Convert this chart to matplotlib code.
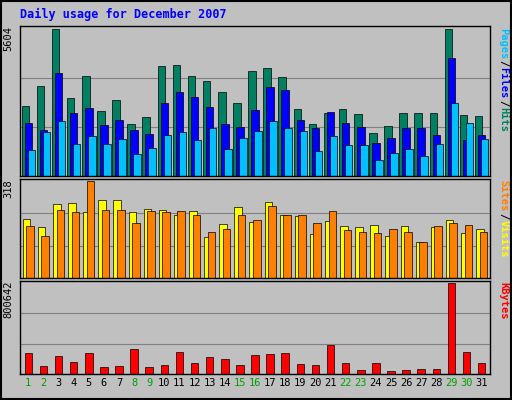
import numpy as np
import matplotlib
matplotlib.use("Agg")
import matplotlib.pyplot as plt

days = list(range(1, 32))
weekend = [1, 2, 8, 9, 15, 16, 22, 23, 29, 30]

hits = [2667, 3440, 5604, 2976, 3826, 2474, 2899, 1971, 2242, 4174, 4213, 3826, 3633, 3208, 2783, 4020,
        4097, 3788, 2551, 1971, 2396, 2551, 2358, 1623, 1894, 2396, 2396, 2396, 5600, 2319, 2280]
files = [2010, 1739, 3942, 2396, 2590, 1932, 2126, 1739, 1585, 2783, 3208, 3015, 2628, 1971, 1855, 2512,
         3401, 3285, 2126, 1816, 2435, 2010, 1855, 1275, 1430, 1816, 1816, 1546, 4483, 1353, 1546]
pages = [1005, 1662, 2087, 1237, 1507, 1237, 1391, 850, 1082, 1546, 1662, 1353, 1816, 1044, 1430, 1701,
         2087, 1816, 1701, 966, 1507, 1198, 1198, 618, 889, 1044, 773, 1237, 2783, 2010, 1391]
visits = [193, 166, 244, 247, 217, 257, 257, 217, 227, 223, 206, 220, 135, 176, 233, 183,
          250, 206, 203, 145, 186, 169, 166, 173, 139, 169, 118, 166, 189, 149, 159]
sites = [169, 139, 223, 217, 318, 223, 223, 179, 220, 217, 220, 206, 152, 159, 206, 189,
         237, 206, 206, 179, 220, 156, 152, 149, 159, 152, 118, 169, 179, 173, 152]
kbytes = [182000, 73000, 155000, 109000, 182000, 64000, 73000, 218000, 64000, 82000, 191000, 100000,
          146000, 136000, 82000, 164000, 173000, 182000, 91000, 82000, 255000, 100000, 36000, 100000,
          27000, 36000, 45000, 45000, 800642, 191000, 100000]

BG = "#C0C0C0"
W, H = 512, 400
fig = plt.figure(figsize=(5.12, 4.0), dpi=100, facecolor=BG)
mono = "DejaVu Sans Mono"

def ax_at(x0, y0, x1, y1):
    return fig.add_axes([x0 / W, 1 - y1 / H, (x1 - x0) / W, (y1 - y0) / H])

x = np.array(days)
ax1 = ax_at(20, 26, 490, 176)
ax2 = ax_at(20, 179, 490, 278)
ax3 = ax_at(20, 281, 490, 374)

for ax, top in ((ax1, max(hits)), (ax2, max(sites)), (ax3, max(kbytes))):
    ax.set_facecolor(BG)
    ax.set_xlim(0.45, 31.55)
    ax.set_ylim(0, top * 1.02)
    for f in (1 / 3, 2 / 3):
        ax.axhline(top * f, color="#808080", lw=0.8, zorder=0)
    ax.set_xticks([])
    ax.set_yticks([])
    for s in ax.spines.values():
        s.set_color("black")
        s.set_linewidth(1)
    ax.text(-0.025, 1.0, f"{top}", transform=ax.transAxes, rotation=90, ha="center", va="top",
            fontsize=7.5, family=mono)

ek = dict(edgecolor="black", linewidth=0.5)
ax1.bar(x - 0.2, hits, 0.5, color="#008060", **ek)
ax1.bar(x, files, 0.5, color="#0000FF", **ek)
ax1.bar(x + 0.2, pages, 0.5, color="#00C0FF", **ek)
ax2.bar(x - 0.12, visits, 0.5, color="#FFFF00", **ek)
ax2.bar(x + 0.12, sites, 0.5, color="#FF8000", **ek)
ax3.bar(x, kbytes, 0.5, color="#FF0000", **ek)

for d in days:
    ax3.text(d, -0.04, str(d), transform=ax3.get_xaxis_transform(), ha="center", va="top",
             fontsize=7.5, family=mono, color="#00A000" if d in weekend else "black")

def side_label(ax, parts):
    # stacked rotated text, reading downward, on the right edge
    y = 0.99
    for txt, col in parts:
        ax.text(1.018, y, txt, transform=ax.transAxes, rotation=-90, ha="left", va="top",
                fontsize=7.5, family=mono, color=col, fontweight="bold")
        y -= len(txt) * 0.044 * (150 / (ax.get_position().height * H))

side_label(ax1, [("Pages", "#00C0FF"), ("/", "black"), ("Files", "#0000FF"), ("/", "black"), ("Hits", "#008060")])
side_label(ax2, [("Sites", "#FF8000"), ("/", "black"), ("Visits", "#FFFF00")])
side_label(ax3, [("KBytes", "#FF0000")])

fig.text(20 / W, 1 - 14 / H, "Daily usage for December 2007", color="#0000FF", fontsize=8.5,
         family=mono, fontweight="bold", va="center")
fig.patches.append(plt.Rectangle((0.002, 0.002), 0.996, 0.996, transform=fig.transFigure,
                                 fill=False, edgecolor="black", lw=1.5))
fig.savefig("out.png", dpi=100, facecolor=BG)
